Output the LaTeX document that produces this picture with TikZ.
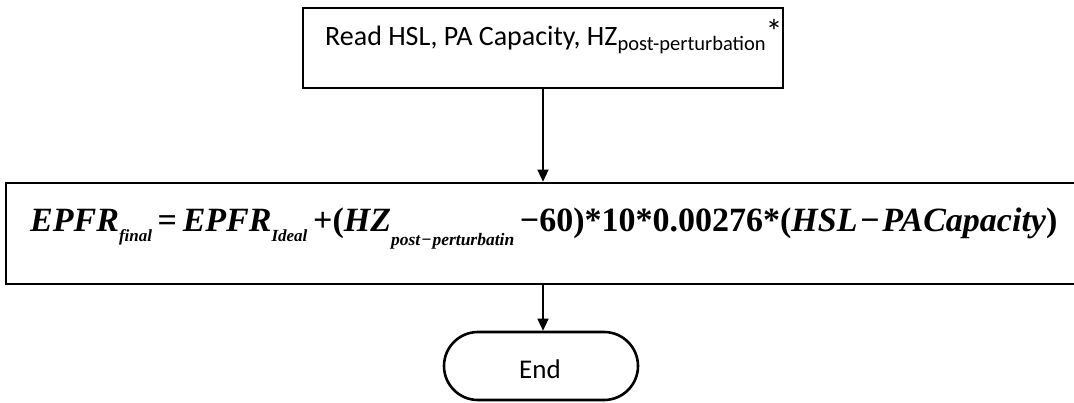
\documentclass[tikz,border=0pt]{standalone}
\usepackage{fontspec}
\setmainfont{Carlito}
\newfontfamily\tnr{Liberation Serif}
\usetikzlibrary{arrows.meta}
\newcommand{\fsub}[1]{\raisebox{-0.32em}{\fontsize{17}{17}\selectfont\bfseries\itshape #1}}
\newcommand{\fsubl}[1]{\raisebox{-0.42em}{\fontsize{17.5}{17}\selectfont\bfseries\itshape #1}}
\newcommand{\rsub}[1]{\raisebox{-0.2em}{\fontsize{20.5}{20}\selectfont #1}}
\newcommand{\rsup}[1]{\raisebox{0.05em}{\fontsize{34}{34}\selectfont #1}}
\begin{document}
\begin{tikzpicture}[x=1pt,y=-1pt,
  box/.style={draw, line width=2.6pt, inner sep=0pt},
  conn/.style={line width=1.3pt, -{Triangle[length=12pt,width=11pt]}},
  lbl/.style={inner sep=0pt}]
\useasboundingbox (0,0) rectangle (1074,402);
\node[box, minimum width=480pt, minimum height=80pt] (read) at (543,48) {};
\node[lbl, anchor=base west, font=\fontsize{28}{32}\selectfont] (readtxt) at (325,45)
  {Read HSL, PA Capacity, HZ\rsub{post-perturbation}\rsup{*}};
\node[box, minimum width=1070pt, minimum height=101pt] (formula) at (541,233.5) {};
\node[lbl, anchor=base west, font=\tnr\fontsize{34}{36}\selectfont\bfseries] (formtxt) at (30,231)
  {\textit{EPFR}\fsub{final}\,=\,\textit{EPFR}\fsub{Ideal}\,+(\textit{HZ}\fsubl{post\kern.05em−\kern.05em perturbatin}\,−60)*10*0.00276*(\textit{HSL}\kern.08em−\kern.08em\textit{PACapacity})};
\node[box, rounded corners=34pt, minimum width=194pt, minimum height=68pt] (endn) at (541,366) {};
\node[lbl, font=\fontsize{27}{30}\selectfont] (endtxt) at (540,369) {End};
\draw[conn] (read.south) -- (read.south |- formula.north);
\draw[conn] (formula.south -| read.south) -- (read.south |- endn.north);
\end{tikzpicture}
\end{document}
